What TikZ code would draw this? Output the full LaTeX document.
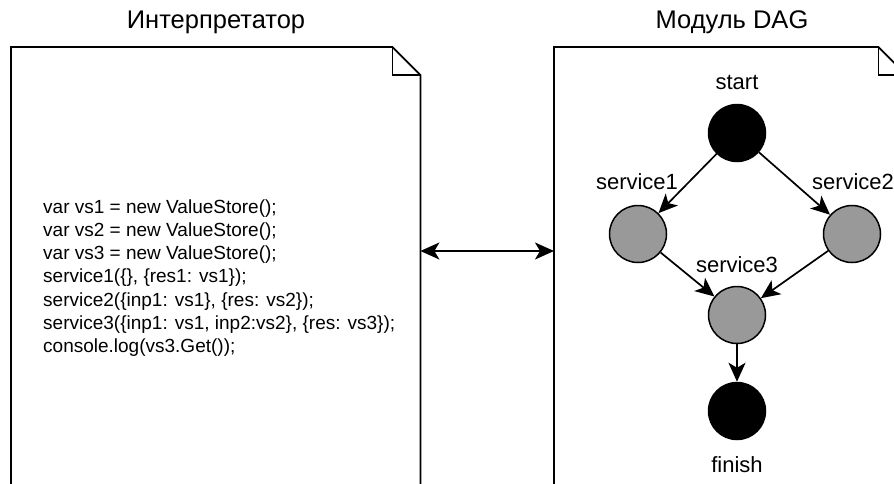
\documentclass[tikz,border=0pt]{standalone}
\usepackage{fontspec}
\setmainfont{Liberation Sans}
\usetikzlibrary{arrows.meta}
\definecolor{servgray}{RGB}{153,153,153}
\begin{document}
\begin{tikzpicture}[x=1pt,y=-1pt]
    \tikzset{state/.style = {minimum size = 57pt,shape = circle,line width=1.5pt,draw=black,inner sep = 0pt}, tip/.style = {Stealth[length=19pt,width=17pt,inset=5pt]}, edge/.style = {line width=1.7pt,-{Stealth[length=19pt,width=17pt,inset=5pt]}}, lbl/.style = {font=\fontsize{22}{26}\selectfont,inner sep=0pt}, doc/.style = {minimum height=480pt,anchor=north west,inner sep=0pt}, title/.style = {font=\fontsize{25.5}{30}\selectfont,inner sep=0pt}}
    \useasboundingbox (0,0) rectangle (894,483);
    \clip (0,0) rectangle (894,483);
    \def\f{28}
    % boxes
    \node[doc,minimum width=409pt] (interp) at (11,47){};
    \node[doc,minimum width=352pt] (dag) at (554,47){};
    \foreach \b in {interp,dag}{
    \draw[line width=1.7pt] (\b.south west) -- (\b.north west) -- ([xshift=-\f pt]\b.north east) -- ([yshift=-\f pt]\b.north east) -- (\b.south east);
    \draw[line width=1.7pt] ([xshift=-\f pt]\b.north east) |- ([yshift=-\f pt]\b.north east);
    }
    \node[title] (interptitle) at (216,22){Интерпретатор};
    \node[title] (dagtitle) at (732,22){Модуль DAG};
    % code
    \node[anchor=west,align=left,inner sep=0pt,font=\fontsize{19}{23.3}\selectfont] (code) at (43,278){var vs1 = new ValueStore();\\var vs2 = new ValueStore();\\var vs3 = new ValueStore();\\service1(\{\}, \{res1: vs1\});\\service2(\{inp1: vs1\}, \{res: vs2\});\\service3(\{inp1: vs1, inp2:vs2\}, \{res: vs3\});\\console.log(vs3.Get());};
    \coordinate (link) at (487,251);
    \draw[line width=1.7pt,{Stealth[length=19pt,width=17pt,inset=5pt]}-{Stealth[length=19pt,width=17pt,inset=5pt]}] (interp.east |- link) -- (dag.west |- link);
    % dag
    \node[state,fill=black] (start) at (737,133){};
    \node[state,fill=servgray] (s1) at (638,234){};
    \node[state,fill=servgray] (s2) at (852,234){};
    \node[state,fill=servgray] (s3) at (737,315){};
    \node[state,fill=black] (finish) at (737,411){};
    \node[lbl] (startlbl) at (737,82){start};
    \node[lbl] (s1lbl) at (637,182){service1};
    \node[lbl] (s2lbl) at (853,182){service2};
    \node[lbl] (s3lbl) at (737,265){service3};
    \node[lbl] (finishlbl) at (737,465){finish};
    \draw[edge] (start) -- (s1);
    \draw[edge] (start) -- (s2);
    \draw[edge] (s1) -- (s3);
    \draw[edge] (s2) -- (s3);
    \draw[edge] (s3) -- (finish);
    \end{tikzpicture}
\end{document}
